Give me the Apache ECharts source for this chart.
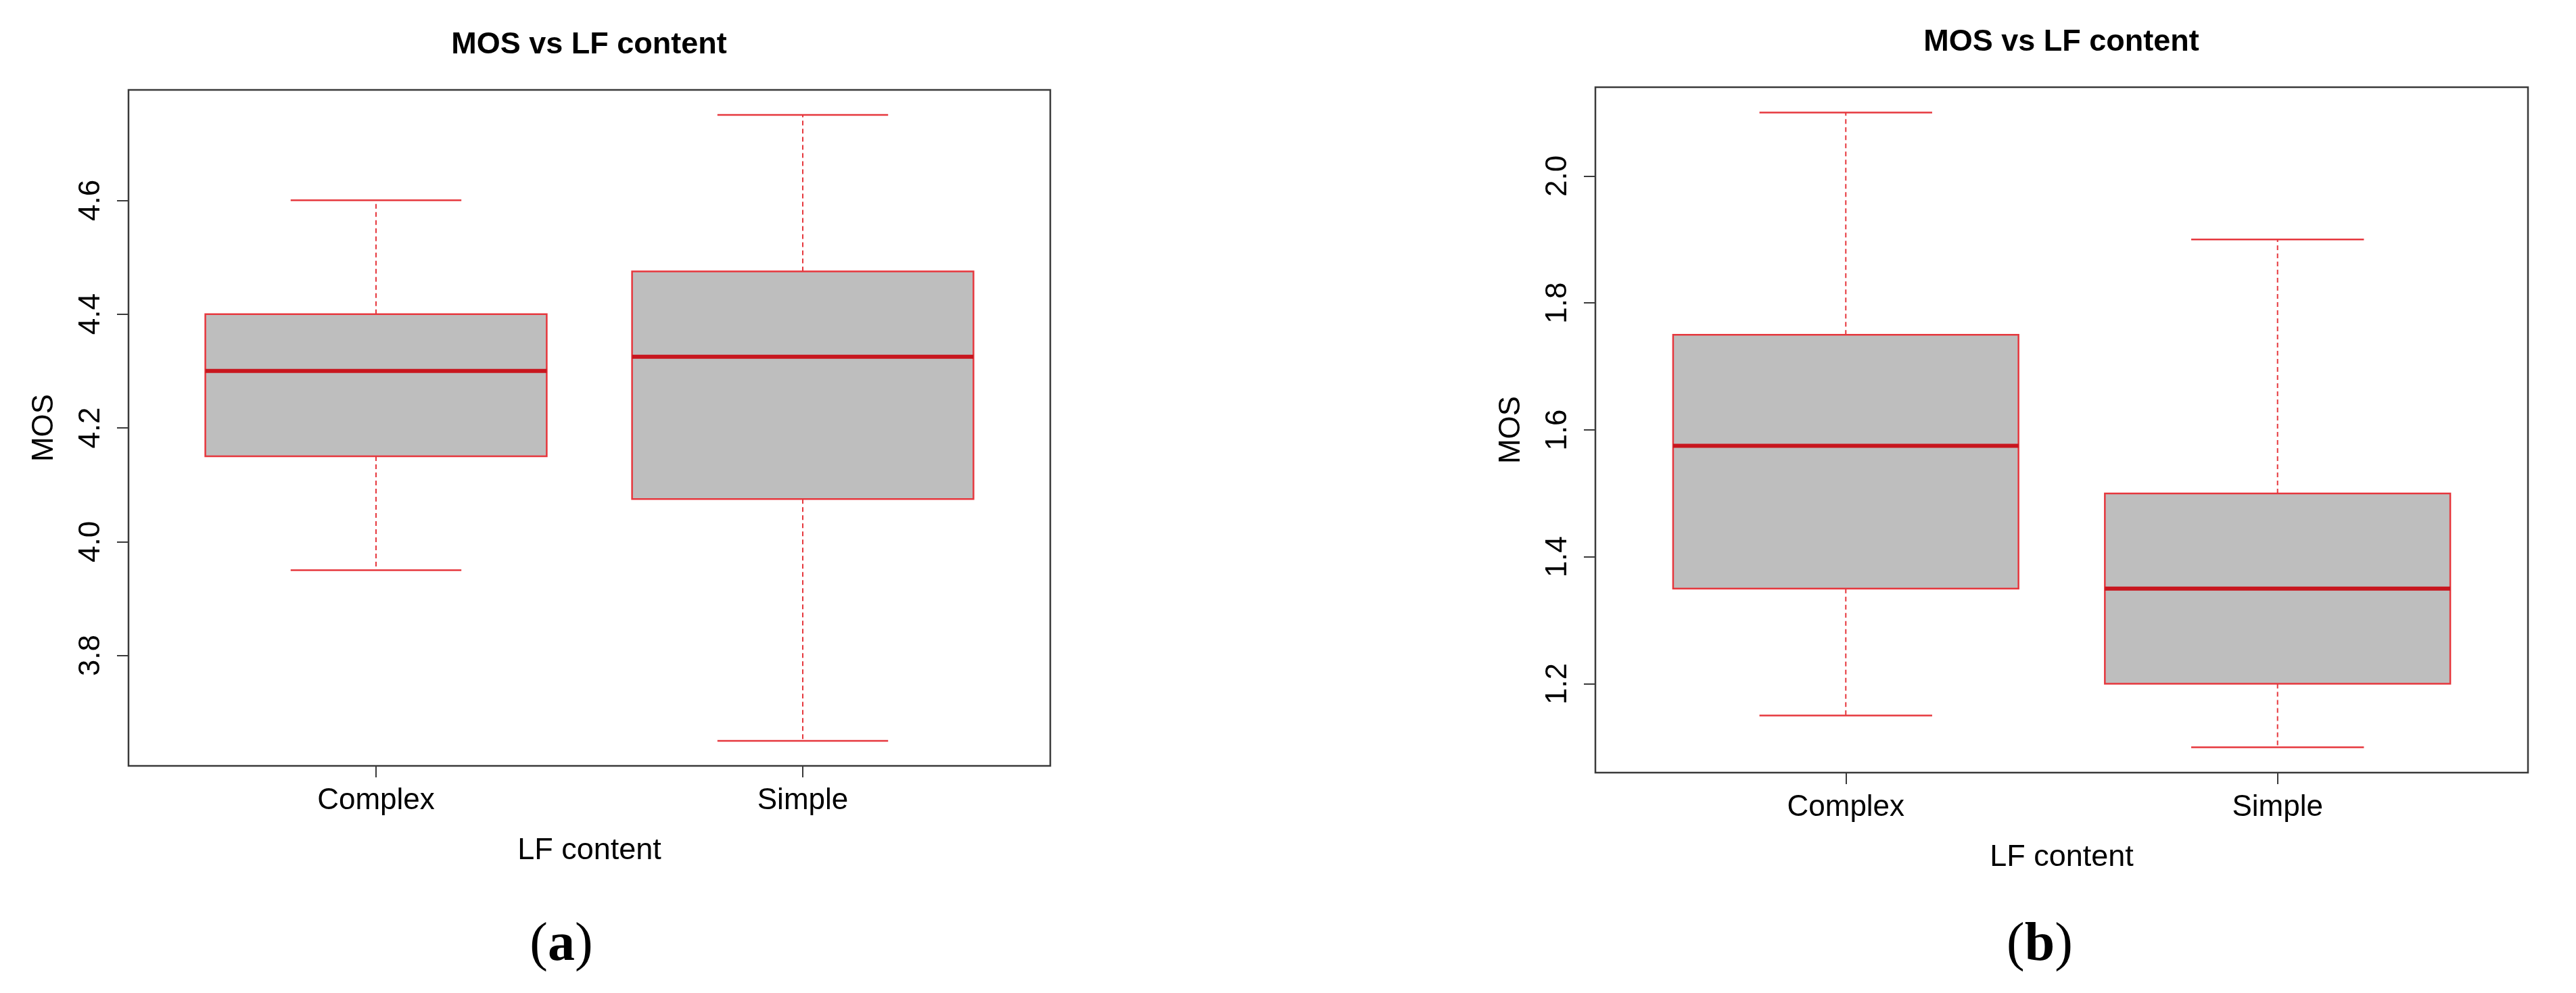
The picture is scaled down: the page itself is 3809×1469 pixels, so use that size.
<!DOCTYPE html>
<html>
<head>
<meta charset="utf-8">
<script src="https://cdn.jsdelivr.net/npm/echarts@6/dist/echarts.min.js"></script>
<style>
  html, body { margin: 0; padding: 0; background: #fff; }
  #chart { width: 3809px; height: 1469px; }
</style>
</head>
<body>
<div id="chart"></div>
<script>
// ---------- data ----------
const categories = ['Complex', 'Simple'];
// five-number summaries: [min, Q1, median, Q3, max]
const aComplex = [3.95, 4.15, 4.30, 4.40, 4.60];
const aSimple  = [3.65, 4.075, 4.325, 4.475, 4.75];
const bComplex = [1.15, 1.35, 1.575, 1.75, 2.10];
const bSimple  = [1.10, 1.20, 1.35, 1.50, 1.90];
const aTicks = ['3.8', '4.0', '4.2', '4.4', '4.6'];
const bTicks = ['1.2', '1.4', '1.6', '1.8', '2.0'];
const chartTitle = 'MOS vs LF content';
const xName = 'LF content';
const yName = 'MOS';

// ---------- helpers ----------
const RED = '#E6373D';
const DARKRED = '#C8161E';
const FRAME = '#3a3a3a';
const SANS = '"Liberation Sans", Arial, sans-serif';
const SERIF = '"Liberation Serif", "Times New Roman", serif';

function rangeOf(groups) {
  let lo = Infinity, hi = -Infinity;
  groups.forEach(g => g.forEach(v => { lo = Math.min(lo, v); hi = Math.max(hi, v); }));
  const pad = (hi - lo) * 0.04;
  return [lo - pad, hi + pad];
}
const aRange = rangeOf([aComplex, aSimple]);
const bRange = rangeOf([bComplex, bSimple]);
const xMin = 0.5 - 0.04 * 2, xMax = 2.5 + 0.04 * 2;

function renderBox(params, api) {
  const x = api.value(0);
  const c = v => api.coord([x, v]);
  const pMin = c(api.value(1)), pQ1 = c(api.value(2)), pMed = c(api.value(3)),
        pQ3 = c(api.value(4)), pMax = c(api.value(5));
  const hb = api.size([0.4, 0])[0];
  const hs = api.size([0.2, 0])[0];
  const cx = pMed[0];
  const dash = { stroke: RED, lineWidth: 2, lineDash: [7, 5] };
  const solid = { stroke: RED, lineWidth: 2.5 };
  return {
    type: 'group',
    children: [
      { type: 'line', shape: { x1: cx, y1: pQ3[1], x2: cx, y2: pMax[1] }, style: dash },
      { type: 'line', shape: { x1: cx, y1: pQ1[1], x2: cx, y2: pMin[1] }, style: dash },
      { type: 'line', shape: { x1: cx - hs, y1: pMax[1], x2: cx + hs, y2: pMax[1] }, style: solid },
      { type: 'line', shape: { x1: cx - hs, y1: pMin[1], x2: cx + hs, y2: pMin[1] }, style: solid },
      { type: 'rect', shape: { x: cx - hb, y: pQ3[1], width: 2 * hb, height: pQ1[1] - pQ3[1] },
        style: { fill: '#BEBEBE', stroke: RED, lineWidth: 2.5 } },
      { type: 'line', shape: { x1: cx - hb, y1: pMed[1], x2: cx + hb, y2: pMed[1] },
        style: { stroke: DARKRED, lineWidth: 6 } }
    ]
  };
}

function xAxisDef(gridIndex) {
  return {
    gridIndex, type: 'value', min: xMin, max: xMax,
    axisLine: { show: false }, splitLine: { show: false },
    axisTick: { show: true, customValues: [1, 2], length: 17, lineStyle: { color: FRAME, width: 2 } },
    axisLabel: { show: true, customValues: [1, 2], margin: 30,
      formatter: v => categories[Math.round(v) - 1],
      fontFamily: SANS, fontSize: 44, color: '#000' },
    name: xName, nameLocation: 'middle', nameGap: 103,
    nameTextStyle: { fontFamily: SANS, fontSize: 45, color: '#000' }
  };
}
function yAxisDef(gridIndex, range, ticks) {
  const vals = ticks.map(Number);
  return {
    gridIndex, type: 'value', min: range[0], max: range[1],
    axisLine: { show: false }, splitLine: { show: false },
    axisTick: { show: true, customValues: vals, length: 17, lineStyle: { color: FRAME, width: 2 } },
    axisLabel: { show: true, customValues: vals, rotate: 90, margin: 33,
      formatter: v => ticks[vals.indexOf(Number(v))] ?? Number(v).toFixed(1),
      fontFamily: SANS, fontSize: 44, color: '#000' },
    name: yName, nameLocation: 'middle', nameGap: 102, nameRotate: 90,
    nameTextStyle: { fontFamily: SANS, fontSize: 44, color: '#000' }
  };
}

function caption(letter, x) {
  return { type: 'text', x, y: 1399,
    style: { text: '{p|(}{b|' + letter + '}{p|)}', align: 'center', verticalAlign: 'middle',
      rich: {
        p: { fontFamily: SERIF, fontSize: 80, fill: '#000' },
        b: { fontFamily: SERIF, fontSize: 80, fontWeight: 'bold', fill: '#000' }
      } } };
}

const chart = echarts.init(document.getElementById('chart'), null, { renderer: 'canvas' });
chart.setOption({
  backgroundColor: '#ffffff',
  animation: false,
  title: [
    { text: chartTitle, left: 871, top: 44, textAlign: 'center', padding: 0,
      textStyle: { fontFamily: SANS, fontWeight: 'bold', fontSize: 45, color: '#000' } },
    { text: chartTitle, left: 3048, top: 40, textAlign: 'center', padding: 0,
      textStyle: { fontFamily: SANS, fontWeight: 'bold', fontSize: 45, color: '#000' } }
  ],
  grid: [
    { left: 190, top: 133, width: 1363, height: 1000, show: true,
      borderColor: FRAME, borderWidth: 2.5, backgroundColor: 'transparent' },
    { left: 2359, top: 129, width: 1379, height: 1014, show: true,
      borderColor: FRAME, borderWidth: 2.5, backgroundColor: 'transparent' }
  ],
  xAxis: [xAxisDef(0), xAxisDef(1)],
  yAxis: [yAxisDef(0, aRange, aTicks), yAxisDef(1, bRange, bTicks)],
  series: [
    { type: 'custom', xAxisIndex: 0, yAxisIndex: 0, renderItem: renderBox,
      encode: { x: 0, y: [1, 2, 3, 4, 5] },
      data: [[1, ...aComplex], [2, ...aSimple]] },
    { type: 'custom', xAxisIndex: 1, yAxisIndex: 1, renderItem: renderBox,
      encode: { x: 0, y: [1, 2, 3, 4, 5] },
      data: [[1, ...bComplex], [2, ...bSimple]] }
  ],
  graphic: [caption('a', 830), caption('b', 3016)]
});
</script>
</body>
</html>
